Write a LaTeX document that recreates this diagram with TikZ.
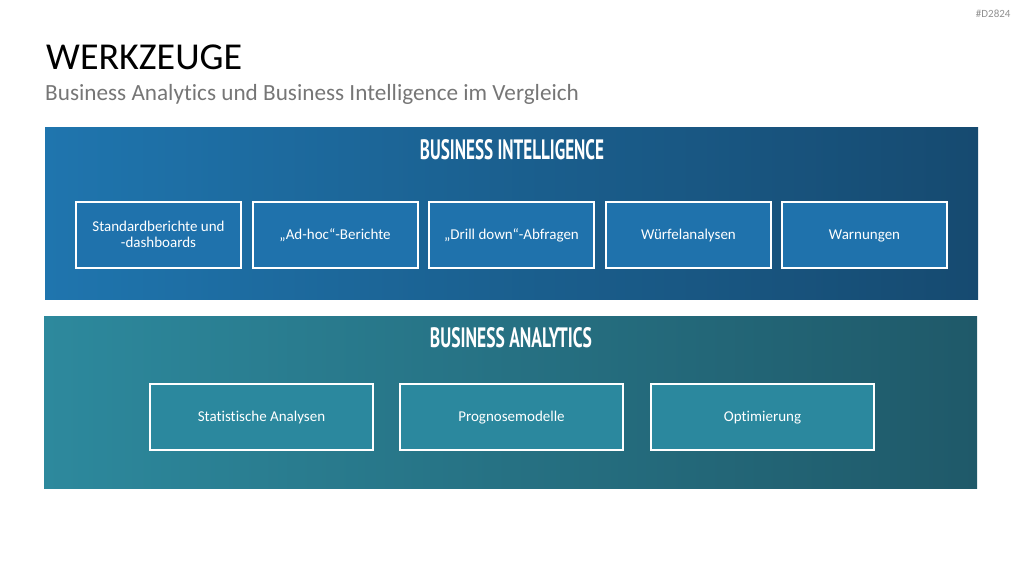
\documentclass[tikz,border=0pt]{standalone}
\usepackage{fontspec}
\setmainfont{Carlito}[Ligatures=NoCommon]
\newfontfamily\headfont{PT Sans}
\usetikzlibrary{positioning}

\definecolor{biLeft}{RGB}{31,117,174}
\definecolor{biRight}{RGB}{22,74,112}
\definecolor{biBox}{RGB}{31,114,172}
\definecolor{baLeft}{RGB}{45,137,157}
\definecolor{baRight}{RGB}{31,89,105}
\definecolor{baBox}{RGB}{43,136,158}
\definecolor{subGray}{RGB}{118,118,118}

\begin{document}
\begin{tikzpicture}[x=1pt,y=-1pt,
    panel/.style={minimum width=933pt, minimum height=172pt, inner sep=0pt, outer sep=0pt},
    toolbox/.style={draw=white, line width=2pt, text=white, align=center,
        font=\fontsize{15}{16.5}\selectfont, text height=12pt, text depth=2.4pt,
        minimum height=66pt, inner sep=0pt},
    oneline/.style={},
    twoline/.style={text height=28.5pt},
    paneltitle/.style={text=white, inner sep=0pt, anchor=base}
    ]
    \useasboundingbox (0,0) rectangle (1024,576);

    % Header
    \node[anchor=east, text=subGray!80, font=\fontsize{11}{12}\selectfont] (tag) at (1014,14) {\#D2824};
    \node[anchor=base west, inner sep=0pt, font=\fontsize{38}{40}\selectfont] (title) at (46,69) {WERKZEUGE};
    \node[anchor=base west, inner sep=0pt, text=subGray, font=\fontsize{23.2}{25}\selectfont] (subtitle) at (45,100)
        {Business Analytics und Business Intelligence im Vergleich};

    % Business Intelligence
    \node[panel, left color=biLeft, right color=biRight] (biPanel) at (511.5,213) {};
    \node[paneltitle] (biTitle) at (512,159)
        {\resizebox{184pt}{20pt}{\headfont\bfseries BUSINESS INTELLIGENCE}};
    \foreach \name/\x/\txt/\lines in {bi1/158.5/{Standardberichte und\\-dashboards}/twoline,
            bi2/335/{„Ad-hoc“-Berichte}/oneline, bi3/511.5/{„Drill down“-Abfragen}/oneline,
            bi4/688.5/{Würfelanalysen}/oneline, bi5/864.5/{Warnungen}/oneline} {
            \node[toolbox, fill=biBox, minimum width=165pt, \lines] (\name) at (\x,234.5) {\txt};
        }

    % Business Analytics
    \node[panel, left color=baLeft, right color=baRight] (baPanel) at (510.5,402.5) {};
    \node[paneltitle] (baTitle) at (511,347)
        {\resizebox{162pt}{20pt}{\headfont\bfseries BUSINESS ANALYTICS}};
    \foreach \name/\x/\txt in {ba1/261.5/{Statistische Analysen},
            ba2/511.5/{Prognosemodelle}, ba3/762.5/{Optimierung}} {
            \node[toolbox, fill=baBox, minimum width=223pt] (\name) at (\x,417) {\txt};
        }
\end{tikzpicture}
\end{document}
